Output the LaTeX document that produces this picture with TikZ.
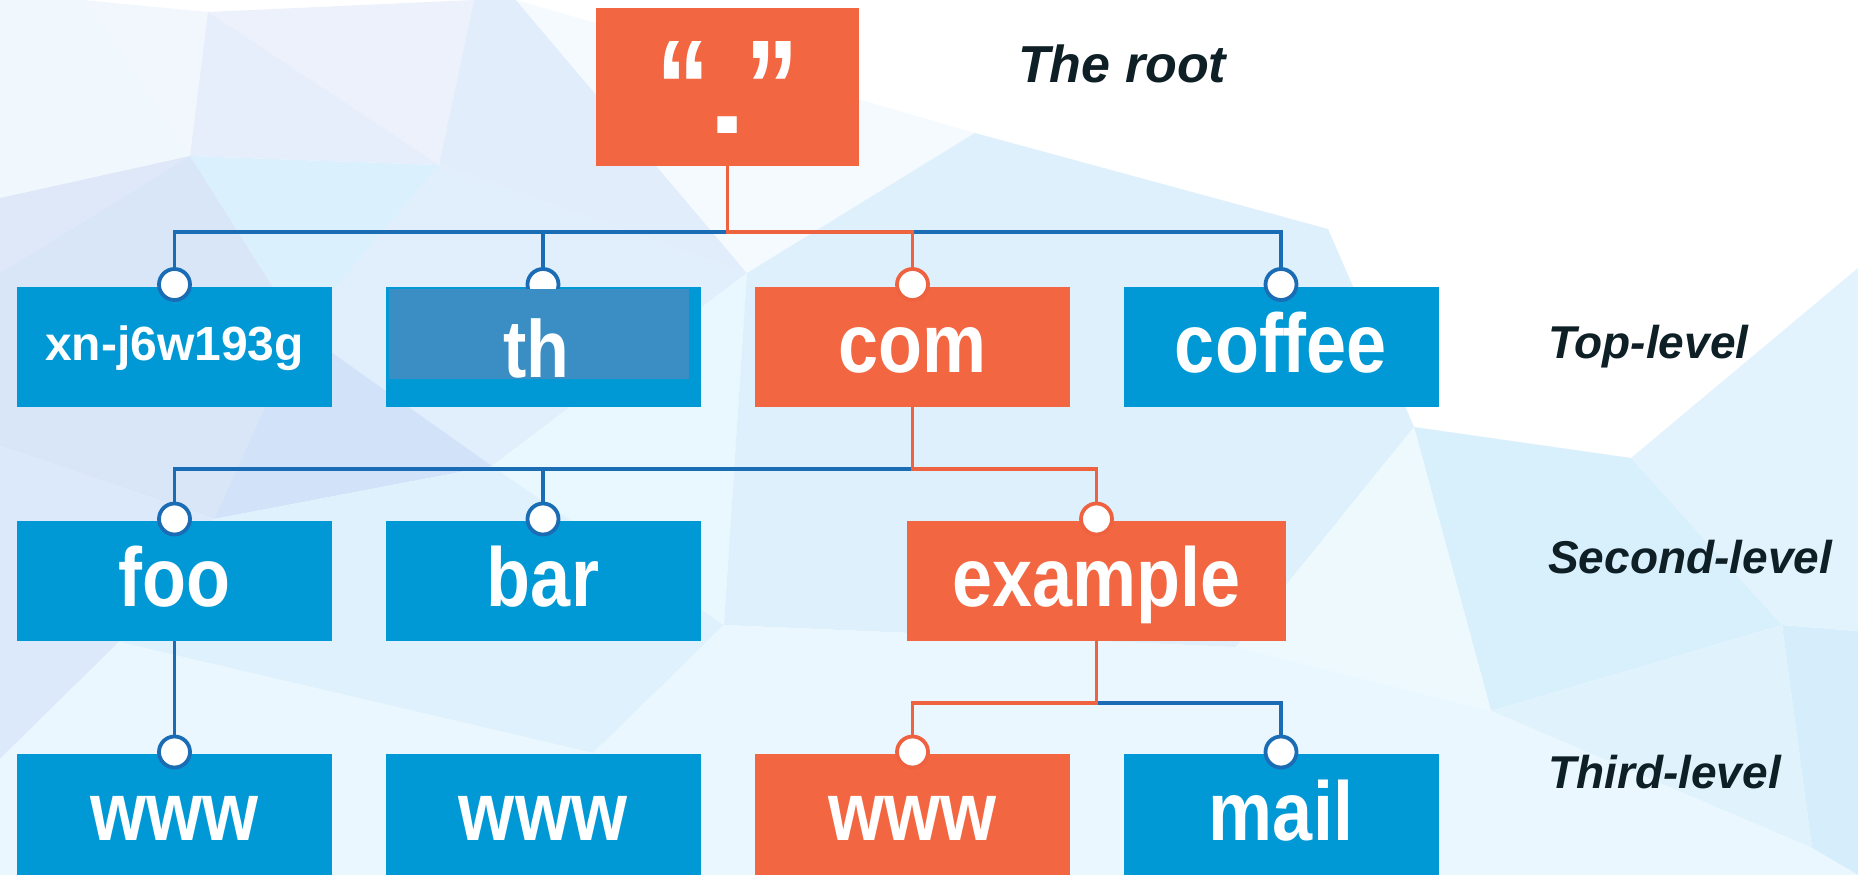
\documentclass[tikz,border=0pt]{standalone}
\usepackage{fontspec}
\setmainfont{Liberation Sans}
\usepackage{graphicx}
\pgfdeclarelayer{back}
\pgfdeclarelayer{mid}
\pgfsetlayers{back,mid,main}
\definecolor{boxblue}{HTML}{0099D5}
\definecolor{boxorange}{HTML}{F26641}
\definecolor{lineblue}{HTML}{1A6DB4}
\definecolor{lineorange}{HTML}{EF6240}
\definecolor{thblue}{HTML}{3A8EC3}
\definecolor{darktext}{HTML}{0E1F26}
\newcommand{\tallt}[1]{\scalebox{1}[1.16]{#1}}
\tikzset{
  box/.style={rectangle, inner sep=0pt, outer sep=0pt, minimum width=315pt, minimum height=120pt,
    text=white, font=\bfseries\fontsize{72}{72}\selectfont, text height=51pt, text depth=0pt},
  bluebox/.style={box, fill=boxblue},
  orangebox/.style={box, fill=boxorange},
  dot/.style={circle, fill=white, line width=3.8pt, minimum size=31pt, inner sep=0pt},
  bluedot/.style={dot, draw=lineblue},
  orangedot/.style={dot, draw=lineorange},
  blueln/.style={draw=lineblue, line width=3.5pt},
  orangeln/.style={draw=lineorange, line width=3.5pt},
  level/.style={anchor=base west, text=darktext, inner sep=0pt,
    font=\bfseries\itshape\fontsize{46}{46}\selectfont},
  bgp/.style={draw=none},
}
\begin{document}
\begin{tikzpicture}[x=1pt,y=-1pt]
\useasboundingbox (0,0) rectangle (1858,875);
% ---------- background ----------
\begin{pgfonlayer}{back}
\fill[white] (0,0) rectangle (1858,875);
\fill[bgp,fill={rgb,255:red,240;green,248;blue,253}] (0,0) -- (83,0) -- (190,156) -- (0,198) -- cycle;
\fill[bgp,fill={rgb,255:red,242;green,247;blue,254}] (83,0) -- (208,12) -- (190,156) -- cycle;
\fill[bgp,fill={rgb,255:red,236;green,241;blue,252}] (208,12) -- (474,0) -- (439,165) -- cycle;
\fill[bgp,fill={rgb,255:red,230;green,237;blue,251}] (208,12) -- (439,165) -- (190,156) -- cycle;
\fill[bgp,fill={rgb,255:red,226;green,237;blue,251}] (474,0) -- (516,0) -- (747,273) -- (439,165) -- cycle;
\fill[bgp,fill={rgb,255:red,222;green,232;blue,248}] (0,198) -- (190,156) -- (0,273) -- cycle;
\fill[bgp,fill={rgb,255:red,218;green,240;blue,252}] (190,156) -- (439,165) -- (300,330) -- cycle;
\fill[bgp,fill={rgb,255:red,217;green,230;blue,248}] (0,273) -- (190,156) -- (300,330) -- (214,519) -- (0,446) -- cycle;
\fill[bgp,fill={rgb,255:red,225;green,239;blue,252}] (439,165) -- (747,273) -- (492,466) -- (300,330) -- cycle;
\fill[bgp,fill={rgb,255:red,210;green,226;blue,249}] (300,330) -- (492,466) -- (214,519) -- cycle;
\fill[bgp,fill={rgb,255:red,220;green,233;blue,250}] (0,446) -- (214,519) -- (119,642) -- (0,759) -- cycle;
\fill[bgp,fill={rgb,255:red,222;green,241;blue,252}] (214,519) -- (492,466) -- (724,625) -- (593,753) -- (119,642) -- cycle;
\fill[bgp,fill={rgb,255:red,232;green,248;blue,254}] (492,466) -- (747,273) -- (724,625) -- cycle;
\fill[bgp,fill={rgb,255:red,245;green,250;blue,254}] (516,0) -- (975,133) -- (747,273) -- cycle;
\fill[bgp,fill={rgb,255:red,221;green,240;blue,252}] (747,273) -- (975,133) -- (1328,229) -- (1414,427) -- (1236,647) -- (724,625) -- cycle;
\fill[bgp,fill={rgb,255:red,216;green,239;blue,252}] (1414,427) -- (1631,458) -- (1782,625) -- (1491,711) -- cycle;
\fill[bgp,fill={rgb,255:red,238;green,249;blue,254}] (1236,647) -- (1414,427) -- (1491,711) -- cycle;
\fill[bgp,fill={rgb,255:red,224;green,243;blue,253}] (1491,711) -- (1782,625) -- (1812,848) -- cycle;
\fill[bgp,fill={rgb,255:red,214;green,238;blue,251}] (1782,625) -- (1858,631) -- (1858,875) -- (1812,848) -- cycle;
\fill[bgp,fill={rgb,255:red,227;green,243;blue,253}] (1631,458) -- (1858,268) -- (1858,631) -- (1782,625) -- cycle;
\fill[bgp,fill={rgb,255:red,234;green,247;blue,254}] (593,753) -- (724,625) -- (1236,647) -- (1491,711) -- (1812,848) -- (1858,875) -- (0,875) -- (0,759) -- (119,642) -- cycle;
\end{pgfonlayer}
% ---------- boxes ----------
\node[box, fill=boxorange, minimum width=263pt, minimum height=158pt] (root) at (727.5,87) {};
\node[anchor=base, text=white, inner sep=0pt] (rootlab) at (728,133)
  {\makebox[0pt]{\raisebox{0pt}{\fontsize{107}{107}\selectfont\bfseries\scalebox{1}[1.25]{“\hspace{36pt}”}}}%
   \makebox[0pt]{\fontsize{125}{125}\selectfont\bfseries\scalebox{1.1}[0.9]{.}}};

\node[bluebox, font=\bfseries\fontsize{48}{48}\selectfont, text height=27pt] (xn) at (174.5,346.5) {xn-j6w193g};
\node[bluebox] (th) at (543,346.5) {};
\node[orangebox] (com) at (912.5,346.5) {\tallt{com}};
\node[bluebox] (coffee) at (1281,346.5) {\tallt{coffee}};

\node[bluebox] (foo) at (174.5,581) {\tallt{foo}};
\node[bluebox] (bar) at (543,581) {\tallt{bar}};
\node[orangebox, minimum width=379pt] (example) at (1096.5,581) {\tallt{example}};

\node[bluebox, minimum height=121pt] (wwwA) at (174.5,814.5) {\tallt{www}};
\node[bluebox, minimum height=121pt] (wwwB) at (543,814.5) {\tallt{www}};
\node[orangebox, minimum height=121pt] (wwwC) at (912.5,814.5) {\tallt{www}};
\node[bluebox, minimum height=121pt] (mail) at (1281,814.5) {\tallt{mail}};

% ---------- joints ----------
\node[bluedot] (cxn) at ([yshift=2pt]xn.north) {};
\node[bluedot] (cth) at ([yshift=2pt]th.north) {};
\node[orangedot] (ccom) at ([yshift=2pt]com.north) {};
\node[bluedot] (ccoffee) at ([yshift=2pt]coffee.north) {};
\node[bluedot] (cfoo) at ([yshift=2pt]foo.north) {};
\node[bluedot] (cbar) at ([yshift=2pt]bar.north) {};
\node[orangedot] (cexample) at ([yshift=2pt]example.north) {};
\node[bluedot] (cwwwA) at ([yshift=2pt]wwwA.north) {};
\node[orangedot] (cwwwC) at ([yshift=2pt]wwwC.north) {};
\node[bluedot] (cmail) at ([yshift=2pt]mail.north) {};

% overlay on th
\node[rectangle, fill=thblue, inner sep=0pt, minimum width=300pt, minimum height=90pt, text=white,
  font=\bfseries\fontsize{70}{70}\selectfont, text height=86pt, text depth=0pt] (thlab) at (539,334) {\hspace{-5pt}\tallt{th}};

% ---------- connectors ----------
\coordinate (bar1) at (0,232);
\coordinate (bar2) at (0,469);
\coordinate (bar3) at (0,703);
\begin{pgfonlayer}{mid}
\draw[blueln] (cxn.center) -- (cxn.center |- bar1) -- (ccoffee.center |- bar1) -- (ccoffee.center);
\draw[blueln] (cth.center) -- (cth.center |- bar1);
\draw[orangeln] (root.south) -- (root.south |- bar1) -| (ccom.center);
\draw[blueln] (cfoo.center) -- (cfoo.center |- bar2) -- (com.south |- bar2);
\draw[blueln] (cbar.center) -- (cbar.center |- bar2);
\draw[orangeln] (com.south) -- (com.south |- bar2) -| (cexample.center);
\draw[blueln] (foo.south) -- (cwwwA.center);
\draw[blueln] (example.south |- bar3) -| (cmail.center);
\draw[orangeln] (example.south) -- (example.south |- bar3) -| (cwwwC.center);
\end{pgfonlayer}

% ---------- level labels ----------
\node[level, font=\bfseries\itshape\fontsize{52}{52}\selectfont] (lroot) at (1018,82) {The root};
\node[level] (ltop) at (1548,358) {Top-level};
\node[level] (lsecond) at (1548,573) {Second-level};
\node[level] (lthird) at (1548,788) {Third-level};
\end{tikzpicture}
\end{document}
